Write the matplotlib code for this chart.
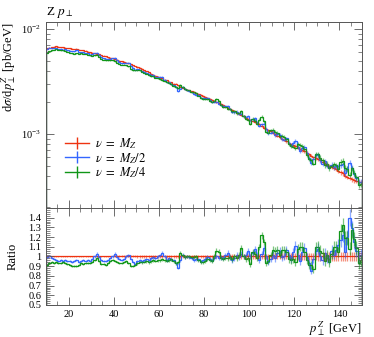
import numpy as np
import matplotlib
matplotlib.use("Agg")
import matplotlib.pyplot as plt
from matplotlib.lines import Line2D
from matplotlib.ticker import MultipleLocator, LogLocator, NullFormatter

plt.rcParams['font.family'] = 'serif'
plt.rcParams['font.serif'] = ['Liberation Serif', 'DejaVu Serif']
plt.rcParams['mathtext.fontset'] = 'stix'

# bin edges of the Z pT histogram, 1 GeV bins from 10 to 150
edges = np.arange(10, 151, 1)

# nu = M_Z, dsigma/dpT in units of 1e-3 pb/GeV
xsec_mz = [
    6.55, 6.62, 6.70, 6.80, 6.86, 6.80, 6.74, 6.70, 6.66, 6.60,
    6.55, 6.50, 6.46, 6.52, 6.38, 6.30, 6.26, 6.22, 6.10, 6.02,
    5.95, 5.88, 5.80, 5.74, 5.66, 5.56, 5.50, 5.40, 5.32, 5.24,
    5.15, 5.08, 5.00, 4.92, 4.86, 4.76, 4.74, 4.60, 4.52, 4.44,
    4.35, 4.26, 4.16, 4.05, 3.95, 3.86, 3.75, 3.68, 3.60, 3.52,
    3.45, 3.38, 3.30, 3.24, 3.16, 3.10, 3.02, 3.02, 2.90, 2.82,
    2.76, 2.70, 2.64, 2.60, 2.54, 2.50, 2.44, 2.42, 2.34, 2.30,
    2.27, 2.20, 2.16, 2.12, 2.06, 2.02, 1.98, 1.92, 1.88, 1.83,
    1.78, 1.74, 1.69, 1.64, 1.60, 1.56, 1.52, 1.47, 1.43, 1.39,
    1.35, 1.33, 1.30, 1.27, 1.24, 1.20, 1.15, 1.12, 1.08, 1.06,
    1.03, 0.99, 0.96, 0.93, 0.90, 0.88, 0.85, 0.82, 0.80, 0.78,
    0.77, 0.74, 0.72, 0.70, 0.69, 0.66, 0.64, 0.62, 0.60, 0.59,
    0.58, 0.56, 0.54, 0.53, 0.51, 0.50, 0.48, 0.47, 0.46, 0.44,
    0.43, 0.42, 0.40, 0.39, 0.38, 0.37, 0.36, 0.355, 0.35, 0.345,
]

# ratio to nu = M_Z
ratio_mz2 = [
    0.99, 1.00, 0.98, 0.97, 0.96, 0.95, 0.96, 0.95, 0.96, 0.95,
    0.95, 0.94, 0.95, 0.96, 0.94, 0.95, 0.96, 0.95, 0.96, 0.95,
    0.97, 1.00, 1.03, 0.99, 0.96, 0.95, 0.95, 0.96, 0.98, 1.00,
    1.03, 0.99, 0.97, 0.96, 0.97, 1.00, 1.01, 0.97, 0.94, 0.92,
    0.95, 0.96, 0.95, 0.96, 0.97, 0.96, 0.98, 0.99, 0.98, 1.00,
    1.01, 1.04, 1.00, 0.96, 0.98, 0.97, 0.96, 0.93, 0.88, 0.96,
    1.02, 0.99, 1.00, 0.99, 0.98, 0.96, 0.97, 0.97, 0.95, 0.96,
    0.97, 0.99, 0.97, 0.96, 0.98, 1.00, 0.98, 0.99, 0.98, 1.01,
    1.04, 0.99, 0.96, 0.98, 1.02, 0.99, 1.03, 1.00, 1.02, 1.06,
    1.00, 1.04, 1.08, 1.02, 0.96, 1.03, 1.09, 1.00, 0.94, 0.97,
    1.02, 0.98, 1.04, 1.06, 0.99, 1.00, 1.07, 1.01, 0.97, 1.05,
    1.11, 1.02, 0.95, 1.05, 1.09, 0.99, 0.93, 0.85, 0.97, 1.06,
    1.08, 1.00, 0.96, 1.04, 0.98, 0.97, 1.06, 1.02, 1.07, 1.12,
    1.17, 1.22, 1.05, 1.20, 1.40, 1.29, 1.15, 1.06, 1.00, 1.02,
]

ratio_mz4 = [
    0.91, 0.93, 0.94, 0.935, 0.94, 0.935, 0.93, 0.94, 0.93, 0.92,
    0.91, 0.90, 0.905, 0.90, 0.91, 0.93, 0.925, 0.93, 0.935, 0.93,
    0.94, 0.96, 0.98, 0.95, 0.92, 0.92, 0.915, 0.93, 0.95, 0.96,
    0.955, 0.94, 0.935, 0.93, 0.94, 0.95, 0.93, 0.90, 0.90, 0.91,
    0.93, 0.945, 0.94, 0.945, 0.95, 0.94, 0.95, 0.96, 0.955, 0.96,
    0.96, 0.97, 0.96, 0.955, 0.96, 0.97, 0.95, 0.93, 0.94, 1.04,
    1.01, 0.995, 1.00, 1.00, 0.99, 0.995, 1.00, 0.96, 0.945, 0.94,
    0.95, 0.97, 0.96, 0.95, 1.00, 1.06, 1.05, 0.98, 0.97, 0.98,
    0.98, 0.99, 0.97, 1.00, 0.98, 1.02, 1.09, 1.00, 0.97, 0.98,
    0.92, 1.05, 1.03, 0.98, 1.10, 1.22, 1.15, 0.93, 0.95, 1.02,
    1.07, 1.06, 1.07, 1.02, 1.07, 1.07, 1.05, 0.97, 0.96, 0.97,
    0.945, 1.08, 1.10, 1.10, 1.05, 0.96, 0.91, 0.91, 0.87, 1.10,
    1.10, 1.06, 1.04, 0.95, 1.02, 0.94, 1.03, 1.10, 1.10, 1.05,
    1.26, 1.32, 1.19, 1.19, 1.08, 1.27, 1.18, 1.09, 0.93, 0.96,
]

# relative stat. uncertainty per 10 GeV block
relerr_mz = [0.008, 0.008, 0.009, 0.010, 0.012, 0.014, 0.016,
             0.019, 0.022, 0.026, 0.031, 0.036, 0.042, 0.050]
relerr_scaled = [0.010, 0.010, 0.011, 0.012, 0.014, 0.016, 0.019,
                 0.022, 0.026, 0.030, 0.036, 0.042, 0.050, 0.060]

labels = [r'$\nu\ =\ M_Z$', r'$\nu\ =\ M_Z/2$', r'$\nu\ =\ M_Z/4$']
colors = ['#EE3311', '#3366FF', '#109618']

centers = 0.5 * (edges[:-1] + edges[1:])
ref = np.array(xsec_mz) * 1e-3
ratios = [np.ones_like(ref), np.array(ratio_mz2), np.array(ratio_mz4)]
errs = [np.repeat(relerr_mz, 10), np.repeat(relerr_scaled, 10), np.repeat(relerr_scaled, 10)]

fig = plt.figure(figsize=(3.74, 3.37), dpi=100)
ax = fig.add_axes([0.123, 0.383, 0.845, 0.552])
rax = fig.add_axes([0.123, 0.095, 0.845, 0.288], sharex=ax)

handles = []
for r, e, c, lab in zip(ratios, errs, colors, labels):
    y = ref * r
    ax.stairs(y, edges, color=c, lw=0.9)
    ax.errorbar(centers, y, yerr=y * e, fmt='none', ecolor=c, elinewidth=0.9, alpha=0.55)
    rax.stairs(r, edges, color=c, lw=0.9)
    rax.errorbar(centers, r, yerr=r * e, fmt='none', ecolor=c, elinewidth=0.9, alpha=0.55)
    handles.append(Line2D([], [], color=c, lw=1.0, marker='|', markersize=9,
                          markeredgewidth=1.0, label=lab))

ax.set_yscale('log')
ax.set_ylim(1.97e-4, 1.17e-2)
ax.set_xlim(10, 150)
ax.yaxis.set_minor_locator(LogLocator(base=10, subs=np.arange(2, 10)))
ax.yaxis.set_minor_formatter(NullFormatter())
ax.tick_params(labelbottom=False)
ax.set_ylabel(r'd$\sigma$/d$p_\perp^Z$ [pb/GeV]', loc='top', fontsize=9, labelpad=2)
ax.text(0.0, 1.012, r'Z $p_\perp$', transform=ax.transAxes, fontsize=9.5, ha='left', va='bottom')

rax.set_ylim(0.5, 1.5)
rax.set_yticks(np.arange(0.5, 1.41, 0.1))
rax.set_yticklabels(['0.5', '0.6', '0.7', '0.8', '0.9', '1', '1.1', '1.2', '1.3', '1.4'])
rax.yaxis.set_minor_locator(MultipleLocator(0.02))
rax.xaxis.set_major_locator(MultipleLocator(20))
rax.xaxis.set_minor_locator(MultipleLocator(5))
rax.set_ylabel('Ratio', fontsize=9, labelpad=7)
rax.set_xlabel(r'$p_\perp^Z$ [GeV]', loc='right', fontsize=9, labelpad=0)

for a in (ax, rax):
    a.tick_params(which='both', direction='in', top=True, right=True, labelsize=7.5, color='#555555')
    a.tick_params(which='major', length=6, width=0.6)
    a.tick_params(which='minor', length=3, width=0.5)
    for s in a.spines.values():
        s.set_linewidth(0.7)
        s.set_color('#555555')

ax.legend(handles=handles, loc='upper left', bbox_to_anchor=(0.04, 0.42), frameon=False,
          fontsize=9, handlelength=1.9, labelspacing=0.0, handletextpad=0.5,
          borderpad=0, numpoints=1)

fig.savefig('out.png', dpi=100)
